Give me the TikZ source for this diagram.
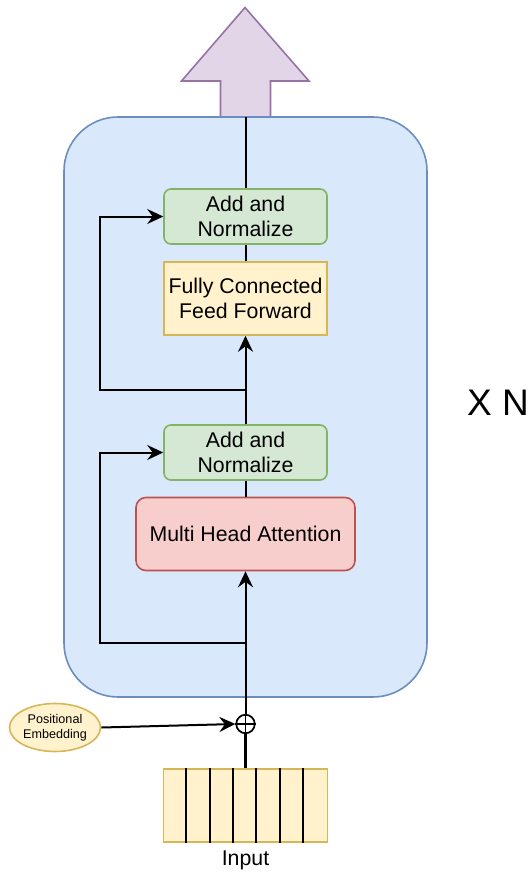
\documentclass[tikz,border=0pt]{standalone}
\usepackage{fontspec}
\setmainfont{Liberation Sans}
\usetikzlibrary{arrows.meta,shapes.geometric}
\definecolor{bluefill}{HTML}{DAE8FC}\definecolor{blueline}{HTML}{6C8EBF}
\definecolor{greenfill}{HTML}{D5E8D4}\definecolor{greenline}{HTML}{82B366}
\definecolor{yellowfill}{HTML}{FFF2CC}\definecolor{yellowline}{HTML}{D6B656}
\definecolor{redfill}{HTML}{F8CECC}\definecolor{redline}{HTML}{B85450}
\definecolor{purplefill}{HTML}{E1D5E7}\definecolor{purpleline}{HTML}{9673A6}
\tikzset{
  blk/.style={draw, line width=1.6pt, align=center, inner sep=0pt,
    font=\fontsize{21.3}{25.7}\selectfont},
  normbox/.style={blk, fill=greenfill, draw=greenline, rounded corners=7pt,
    minimum width=163pt, minimum height=55pt},
  ffbox/.style={blk, fill=yellowfill, draw=yellowline,
    minimum width=163pt, minimum height=73pt},
  attbox/.style={blk, fill=redfill, draw=redline, rounded corners=10pt,
    minimum width=219pt, minimum height=73pt},
  conn/.style={line width=2pt, draw=black},
  arr/.style={conn, -{Stealth[length=16pt, width=15pt, inset=5.5pt]}},
}
\begin{document}
\begin{tikzpicture}[x=1pt,y=-1pt]
\useasboundingbox (0,0) rectangle (532,873);
% output arrow
\draw[fill=purplefill, draw=purpleline, line width=1.6pt]
  (245,7.5) -- (309,81) -- (270.5,81) -- (270.5,117) -- (220.5,117)
  -- (220.5,81) -- (181.5,81) -- cycle;
% big container
\node[draw=blueline, fill=bluefill, line width=1.6pt, rounded corners=54pt,
  minimum width=363pt, minimum height=580pt, inner sep=0pt] (box) at (245.5,407) {};
\node[normbox] (an1) at (245.5,216.5) {Add and\\Normalize};
\node[ffbox] (ff) at (245.5,298.5) {Fully Connected\\Feed Forward};
\node[normbox] (an2) at (245.5,452.5) {Add and\\Normalize};
\node[attbox] (mha) at (245.5,534) {Multi Head Attention};
\node[font=\fontsize{37}{40}\selectfont, anchor=west, inner sep=0pt] (xn) at (467,403) {X N};
% oplus
\node[circle, draw, line width=1.7pt, minimum size=18.5pt, inner sep=0pt] (op) at (245.5,724) {};
\draw[line width=1.4pt] (op.north) -- (op.south) (op.west) -- (op.east);
% positional embedding
\node[ellipse, draw=yellowline, fill=yellowfill, line width=1.6pt, minimum width=91pt,
  minimum height=48pt, inner sep=0pt, align=center,
  font=\fontsize{12.6}{15}\selectfont] (pe) at (55,727.5) {Positional\\Embedding};
% input
\node[draw=yellowline, fill=yellowfill, line width=1.6pt, minimum width=164pt,
  minimum height=73pt, inner sep=0pt] (inp) at (245.5,805.5) {};
\foreach \i in {1,...,6} {
  \draw[line width=2pt] ([xshift=\i*23.43pt]inp.north west) -- ([xshift=\i*23.43pt]inp.south west);
}
\node[font=\fontsize{21.3}{24}\selectfont, inner sep=0pt] (inl) at (245.5,860) {Input};
% connectors
\coordinate (j1) at (245.5,389.5);
\coordinate (l1) at (100,389.5);
\coordinate (j2) at (245.5,642.5);
\coordinate (l2) at (100,642.5);
\coordinate (top) at (245.5,117);
\draw[conn, line width=2.4pt] (inp.north) -- (op.south);
\draw[arr] (pe.east) -- (op.west);
\draw[arr] (op.north) -- (mha.south);
\draw[conn] (mha.north) -- (an2.south);
\draw[arr] (an2.north) -- (ff.south);
\draw[conn] (ff.north) -- (an1.south);
\draw[conn] (an1.north) -- (top);
\draw[arr] (j2) -- (l2) |- (an2.west);
\draw[arr] (j1) -- (l1) |- (an1.west);
\end{tikzpicture}
\end{document}
